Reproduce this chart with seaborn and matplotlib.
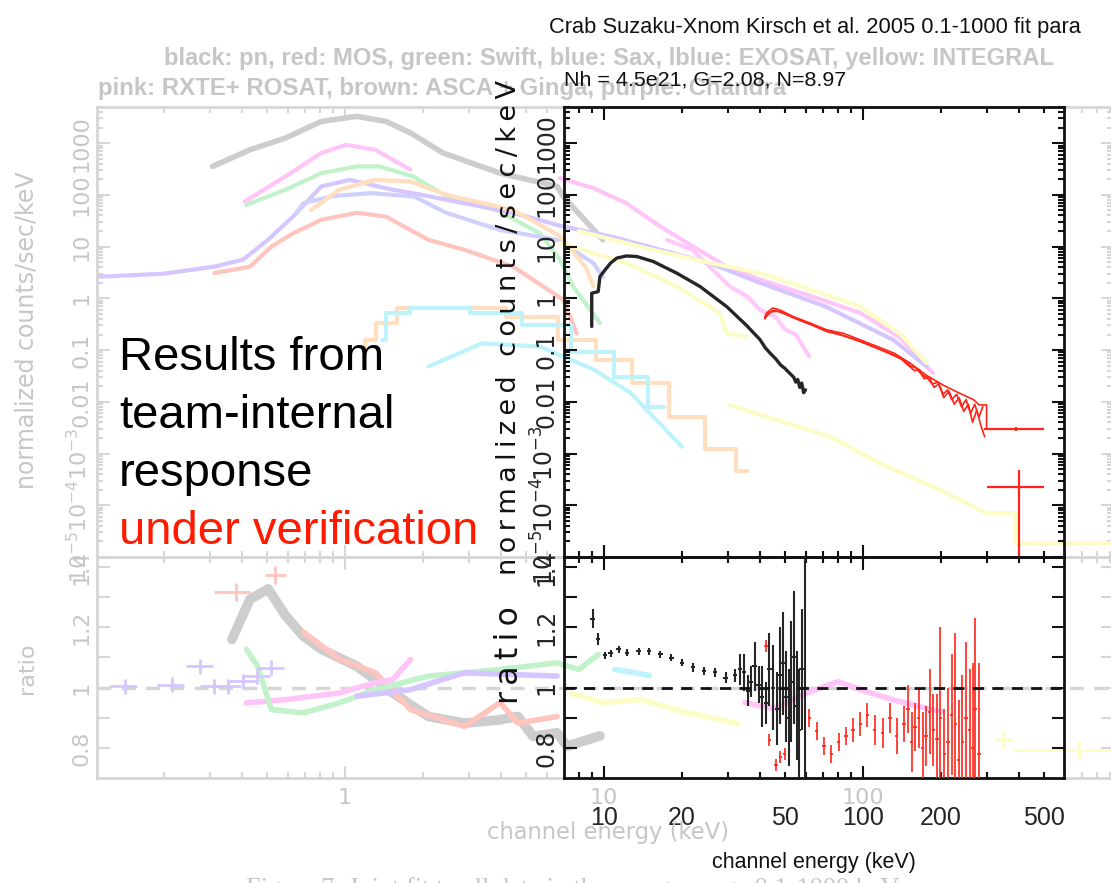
import numpy as np
import matplotlib
matplotlib.use("Agg")
import matplotlib.pyplot as plt
import seaborn as sns

# --- values (energy in keV) ---
# foreground: Suzaku fit, black = PIN, red = GSO
pin_e = [8.97, 8.97, 9.5, 9.65, 10.1, 10.6, 11.2, 12.2, 13.4, 15.5, 19.1, 23.5, 29.8, 35.5,
         40, 42, 44, 46, 48, 50, 52, 54, 55, 56, 57, 58, 59, 60]
pin_y = [0.285, 1.26, 1.35, 2.64, 3.55, 4.79, 6.0, 6.6, 6.43, 5.15, 3.07, 1.69, 0.69, 0.30,
         0.16, 0.11, 0.085, 0.068, 0.052, 0.044, 0.036, 0.03, 0.024, 0.027, 0.019, 0.023, 0.015, 0.017]

gso_a_e = [41.8, 42.4, 44.8, 47.6, 53.8, 62.8, 72.3, 84.2, 97.7, 113.6, 131.9, 152, 176.6, 204,
           237, 267, 281, 300, 300]
gso_a_y = [0.445, 0.52, 0.65, 0.60, 0.445, 0.33, 0.246, 0.21, 0.157, 0.117, 0.087, 0.056, 0.032,
           0.021, 0.0145, 0.011, 0.0087, 0.0087, 0.003]
gso_b_e = [41.8, 43, 45, 48, 54, 63, 72, 84, 98, 114, 132, 145, 152, 160, 168, 176, 185, 195,
           204, 212, 220, 230, 240, 250, 260, 270, 280, 290]
gso_b_y = [0.40, 0.50, 0.58, 0.55, 0.42, 0.31, 0.23, 0.19, 0.145, 0.108, 0.08, 0.062, 0.05, 0.045,
           0.034, 0.03, 0.022, 0.024, 0.014, 0.017, 0.011, 0.014, 0.008, 0.011, 0.006, 0.009,
           0.005, 0.008]
gso_c_e = [41.8, 44, 47, 52, 60, 70, 80, 95, 110, 125, 140, 150, 158, 165, 172, 180, 188, 196,
           205, 215, 225, 235, 245, 255, 265, 275, 285, 295]
gso_c_y = [0.42, 0.55, 0.56, 0.46, 0.34, 0.26, 0.205, 0.155, 0.115, 0.088, 0.068, 0.05, 0.04,
           0.042, 0.028, 0.03, 0.019, 0.022, 0.012, 0.016, 0.009, 0.012, 0.0065, 0.009, 0.004,
           0.007, 0.0035, 0.0021]
# last two wide GSO bins
gso_bin_e = [390, 401]
gso_bin_lo = [292, 300]
gso_bin_hi = [500, 500]
gso_bin_y = [0.003, 2.3e-4]
gso_bin_ylo = [0.0027, 1e-6]
gso_bin_yhi = [0.0033, 4.8e-4]

# ratio panel (data / model)
pin_r_e = [9.05, 9.5, 10.1, 10.6, 11.4, 12.3, 13.6, 14.9, 16.5, 18.2, 20.0, 22.1, 24.3, 26.8,
           29.5, 32.0, 33.5, 34.7, 36.0, 37.0, 38.2, 39.5, 40.8, 42.2, 43.5, 45.0, 46.5, 48.0,
           49.2, 50.4, 51.6, 52.9, 54.2, 55.5, 56.7, 57.9, 59.8]
pin_r = [1.229, 1.16, 1.107, 1.113, 1.127, 1.116, 1.12, 1.12, 1.11, 1.099, 1.083, 1.067, 1.054,
         1.05, 1.033, 1.04, 1.06, 1.05, 0.99, 1.02, 1.07, 1.01, 0.97, 0.95, 1.06, 1.0, 0.93, 1.04,
         1.08, 0.97, 0.9, 1.02, 1.1, 0.94, 0.86, 1.06, 1.0]
pin_r_err = [0.03, 0.02, 0.012, 0.012, 0.012, 0.012, 0.012, 0.012, 0.012, 0.012, 0.012, 0.014,
             0.014, 0.016, 0.018, 0.02, 0.05, 0.06, 0.05, 0.05, 0.08, 0.06, 0.1, 0.07, 0.12, 0.14,
             0.12, 0.16, 0.17, 0.15, 0.16, 0.2, 0.22, 0.18, 0.2, 0.2, 0.7]
gso_r_e = [42.2, 43.5, 46.2, 48.0, 49.8, 52.0, 56.4, 62.1, 66.3, 70.7, 75.5, 80.5, 85.9, 91.6,
           97.7, 104, 111, 119, 127, 135, 144, 149, 154, 159, 164, 170, 175, 181, 187, 193, 199,
           206, 213, 220, 227, 234, 242, 250, 258, 265, 271, 280]
gso_r = [1.138, 0.827, 0.743, 0.771, 0.78, 0.882, 0.90, 0.90, 0.857, 0.807, 0.78, 0.82, 0.84,
         0.86, 0.88, 0.91, 0.86, 0.85, 0.90, 0.84, 0.88, 0.93, 0.82, 0.87, 0.90, 0.80, 0.84, 0.92,
         0.86, 0.83, 0.90, 0.78, 0.82, 0.91, 0.88, 0.76, 0.82, 0.90, 0.86, 0.80, 0.93, 0.78]
gso_r_err = [0.02, 0.02, 0.02, 0.02, 0.02, 0.03, 0.03, 0.03, 0.03, 0.03, 0.03, 0.03, 0.03, 0.04,
             0.04, 0.04, 0.05, 0.05, 0.05, 0.06, 0.06, 0.08, 0.1, 0.08, 0.1, 0.12, 0.1, 0.14,
             0.12, 0.15, 0.3, 0.15, 0.18, 0.2, 0.3, 0.2, 0.22, 0.25, 0.2, 0.28, 0.3, 0.3]

# background (faded) joint fit, main panel
bg_series = {
    "gray": ([0.308, 0.43, 0.59, 0.81, 1.11, 1.44, 1.79, 2.39, 3.97, 6.59, 6.96, 9.9],
             [355, 745, 1260, 2630, 3300, 2630, 1580, 645, 263, 146, 93, 13.5]),
    "pink_lo": ([0.41, 0.59, 0.81, 1.01, 1.31, 1.79], [74, 228, 645, 930, 745, 307]),
    "pink_hi": ([6.76, 9.1, 12.2, 16.5, 22.1, 29.8, 40, 60, 97.7, 140, 186],
                [211, 135, 69, 24.5, 10, 4.1, 2.3, 1.2, 0.52, 0.17, 0.036]),
    "pink_zz": ([17.5, 22, 30.6, 35.8, 40, 46, 50, 55, 62],
                [13.5, 8.6, 1.69, 1.08, 0.6, 0.44, 0.25, 0.2, 0.075]),
    "green": ([0.416, 0.59, 0.81, 1.11, 1.36, 1.83, 2.47, 3.85, 5.66, 6.76, 7.6, 9.65],
              [64, 126, 263, 355, 355, 228, 93, 51, 18, 5.6, 1.7, 0.33]),
    "lav": ([0.11, 0.2, 0.313, 0.404, 0.504, 0.63, 0.81, 1.045, 1.53, 1.83, 3.32, 4.45, 6.96,
             10.6, 16.5, 25.6, 40, 72, 131, 176],
            [2.6, 3.0, 4.1, 5.6, 13.5, 38, 146, 195, 126, 108, 60, 45, 24.5, 15.7, 8.7, 4.8,
             2.0, 0.69, 0.157, 0.048]),
    "blue": ([0.65, 0.69, 0.9, 1.26, 1.85, 2.46, 3.97, 6.59, 9.1, 9.9],
             [45, 69, 95, 108, 93, 45, 21, 13.5, 4.8, 2.6]),
    "red": ([0.313, 0.43, 0.52, 0.63, 0.81, 1.11, 1.44, 2.10, 2.89, 4.46, 6.96, 7.85],
            [3.07, 4.1, 10, 18, 33, 45, 38, 13.5, 8.7, 4.1, 0.94, 0.21]),
    "orange": ([0.74, 0.95, 1.31, 1.79, 2.47, 4.46, 6.76, 7.6, 8.5, 9.1],
               [51, 126, 195, 182, 100, 51, 16, 8, 4, 1.7]),
    "brown": ([1.19, 1.19, 1.44, 1.73, 2.89, 5.45, 7.8, 10.8, 14.9, 20.7, 28.6, 35.8],
              [0.08, 0.157, 0.33, 0.65, 0.65, 0.44, 0.157, 0.065, 0.023, 0.0052, 0.0012, 4.5e-4]),
    "cyan_hi": ([1.39, 1.48, 2.1, 3.97, 5.66, 9.2, 12.7, 17],
                [0.157, 0.52, 0.65, 0.52, 0.3, 0.09, 0.03, 0.008]),
    "cyan_lo": ([2.1, 3.38, 5.66, 9.2, 12.7, 20], [0.048, 0.135, 0.117, 0.041, 0.0147, 1.35e-3]),
    "yel1": ([6.76, 12.2, 19.1, 28, 29.8, 35.5], [11.7, 4.8, 1.7, 0.52, 0.21, 0.18]),
    "yel2": ([8, 15, 25, 40, 60, 97.7, 140, 176], [20, 9, 5, 3.07, 1.6, 0.69, 0.2, 0.056]),
    "yel_lo": ([30.5, 75, 116, 198, 300, 386, 386, 1000],
               [8.7e-3, 2.1e-3, 6.5e-4, 2.0e-4, 7e-5, 7e-5, 1.85e-5, 1.85e-5]),
}
# background ratio panel
bg_ratio = {
    "gray": ([0.366, 0.43, 0.505, 0.59, 0.69, 0.81, 1.11, 1.53, 2.10, 2.89, 3.97, 4.65, 5.33,
              6.59, 7.2, 9.64],
             [1.16, 1.293, 1.327, 1.238, 1.171, 1.127, 1.071, 0.982, 0.904, 0.882, 0.893, 0.904,
              0.838, 0.85, 0.805, 0.84]),
    "red": ([0.69, 0.95, 1.31, 1.79, 2.89, 3.97, 4.65, 6.59],
            [1.184, 1.095, 1.049, 0.927, 0.871, 0.95, 0.882, 0.904]),
    "pink": ([0.416, 0.59, 0.95, 1.31, 1.53, 1.79], [0.949, 0.96, 0.982, 1.016, 1.027, 1.093]),
    "green": ([0.416, 0.46, 0.52, 0.69, 0.95, 1.31, 2.1, 3.97, 6.59, 8, 9.5],
              [1.127, 1.071, 0.927, 0.916, 0.949, 0.993, 1.038, 1.06, 1.082, 1.06, 1.11]),
    "lav": ([1.11, 1.79, 2.89, 6.59], [0.971, 0.993, 1.049, 1.038]),
    "pink_hi": ([35, 45, 60, 80, 100, 130, 160, 200],
                [0.95, 0.93, 0.98, 1.02, 0.99, 0.96, 0.94, 0.92]),
    "yel": ([7.5, 10, 14, 20, 26, 33], [0.98, 0.95, 0.96, 0.92, 0.9, 0.88]),
    "cyan": ([11, 13, 15], [1.06, 1.05, 1.04]),
}
bg_red_x_e = [0.378, 0.537]
bg_red_x_r = [1.316, 1.373]
bg_red_x_lo = [0.313, 0.49]
bg_red_x_hi = [0.43, 0.59]
bg_pur_x_e = [0.141, 0.214, 0.276, 0.313, 0.355, 0.404, 0.457, 0.52]
bg_pur_x_r = [1.004, 1.01, 1.071, 1.004, 1.004, 1.021, 1.038, 1.066]
bg_yel_x_e = [346, 684]
bg_yel_x_r = [0.827, 0.793]
bg_yel_x_lo = [320, 380]
bg_yel_x_hi = [380, 1100]

y_ticks = [1e-5, 1e-4, 1e-3, 1e-2, 0.1, 1, 10, 100, 1000]
y_labels = ["$10^{-5}$", "$10^{-4}$", "$10^{-3}$", "0.01", "0.1", "1", "10", "100", "1000"]
r_ticks = [0.8, 0.9, 1.0, 1.1, 1.2, 1.3, 1.4]
r_labels = ["0.8", "", "1", "", "1.2", "", "1.4"]

# --- style ---
sns.set_theme(style="white")
plt.rcParams["font.family"] = ["DejaVu Sans"]
NARROW = ["DejaVu Sans Condensed", "Liberation Sans Narrow", "Liberation Sans"]
W, H = 1111, 883

bg_cols = {"gray": "#cdcdcd", "pink_lo": "#ffc4f8", "pink_hi": "#ffc4f8", "pink_zz": "#ffcaf9",
           "pink": "#ffc4f8", "green": "#c2f2ca", "lav": "#d6c6ff", "blue": "#d0d0fc",
           "red": "#ffc4bd", "orange": "#ffdfbe", "brown": "#ffdfbe", "cyan_hi": "#bff3fb",
           "cyan_lo": "#bff3fb", "cyan": "#bff3fb", "yel1": "#fcfcc6", "yel2": "#fcfcc6",
           "yel_lo": "#fcfcc6", "yel": "#fcfcc6"}
BG_FRAME = "#d6d6d6"
BG_TEXT = "#c6c6c6"


def px_box(l, t, r, b):
    return [l / W, 1 - b / H, (r - l) / W, (b - t) / H]


def ftext(x, y, s, width=None, **kw):
    # place a text in picture pixels; optionally scale its font so it spans `width` pixels
    t = fig.text(x / W, 1 - y / H, s, **kw)
    if width:
        bb = t.get_window_extent(renderer)
        span = bb.height if kw.get("rotation") == 90 else bb.width
        t.set_fontsize(t.get_fontsize() * width / span)
    return t


def trace(ax, e, y, color, lw, ds="default", z=2):
    sns.lineplot(x=e, y=y, ax=ax, color=color, linewidth=lw, sort=False, estimator=None,
                 drawstyle=ds, zorder=z, legend=False)


def frame(ax, col, lw):
    ax.set_facecolor("none")
    ax.grid(False)
    for s in ax.spines.values():
        s.set_visible(True)
        s.set_color(col)
        s.set_linewidth(lw)
    ax.tick_params(which="both", direction="in", top=True, right=True, bottom=True, left=True,
                   color=col, width=lw * 0.75)
    ax.tick_params(which="major", length=9)
    ax.tick_params(which="minor", length=4.5)


fig = plt.figure(figsize=(W / 100, H / 100), dpi=100)
fig.patch.set_facecolor("white")
renderer = fig.canvas.get_renderer()

bg_main = fig.add_axes(px_box(97, 107, 1113, 557))
bg_rat = fig.add_axes(px_box(97, 557, 1113, 778))
fg_main = fig.add_axes(px_box(564, 107, 1064, 557))
fg_rat = fig.add_axes(px_box(564, 557, 1064, 778))

# --- background: faded joint fit ---
for key, (e, y) in bg_series.items():
    lw = 4 if key == "gray" else 3
    ds = "steps-mid" if key in ("brown", "cyan_hi") else "default"
    trace(bg_main, e, y, bg_cols[key], lw, ds)
for key, (e, r) in bg_ratio.items():
    lw = 7 if key == "gray" else 4
    trace(bg_rat, e, r, bg_cols[key], lw)
bg_rat.errorbar(bg_red_x_e, bg_red_x_r, yerr=0.03,
                xerr=[np.subtract(bg_red_x_e, bg_red_x_lo), np.subtract(bg_red_x_hi, bg_red_x_e)],
                fmt="none", ecolor=bg_cols["red"], elinewidth=2)
bg_rat.errorbar(bg_pur_x_e, bg_pur_x_r, yerr=0.025, xerr=np.array(bg_pur_x_e) * 0.12,
                fmt="none", ecolor=bg_cols["lav"], elinewidth=2)
bg_rat.errorbar(bg_yel_x_e, bg_yel_x_r, yerr=0.03,
                xerr=[np.subtract(bg_yel_x_e, bg_yel_x_lo), np.subtract(bg_yel_x_hi, bg_yel_x_e)],
                fmt="none", ecolor=bg_cols["yel"], elinewidth=2)
bg_rat.axhline(1, color=BG_FRAME, lw=2.5, ls=(0, (4, 3)), zorder=1)

for ax in (bg_main, bg_rat):
    ax.set_xscale("log")
    ax.set_xlim(0.1103, 923)
    frame(ax, BG_FRAME, 2)
    ax.set_xticks([1, 10, 100])
    ax.set_xticks([v * m for m in (0.1, 1, 10, 100) for v in range(2, 10)], minor=True)
    ax.tick_params(which="both", labelsize=16, labelcolor=BG_TEXT)
bg_main.set_yscale("log")
bg_main.set_ylim(1e-5, 5000)
bg_main.set_yticks(y_ticks, labels=y_labels, rotation=90, va="center")
bg_main.tick_params(labelbottom=False, pad=4)
bg_rat.set_ylim(0.7, 1.433)
bg_rat.set_yticks(r_ticks, labels=r_labels, rotation=90, va="center")
bg_rat.set_xticklabels(["1", "10", "100"])
bg_rat.tick_params(axis="x", which="both", pad=7)
bg_rat.tick_params(axis="y", pad=4)

# --- foreground: Suzaku spectrum ---
trace(fg_main, [8.97, 8.97], [0.3, 1.2], "#2f8f4f", 1.5, z=4)
trace(fg_main, pin_e, pin_y, "#262626", 2.4, z=5)
for e, y in ((gso_c_e, gso_c_y), (gso_b_e, gso_b_y), (gso_a_e, gso_a_y)):
    trace(fg_main, e, y, "#ff2418", 1.2, z=5)
fg_main.errorbar(gso_bin_e, gso_bin_y,
                 yerr=[np.subtract(gso_bin_y, gso_bin_ylo), np.subtract(gso_bin_yhi, gso_bin_y)],
                 xerr=[np.subtract(gso_bin_e, gso_bin_lo), np.subtract(gso_bin_hi, gso_bin_e)],
                 fmt="none", ecolor="#ff2418", elinewidth=1.6, zorder=5)

fg_rat.axhline(1, color="#111111", lw=2, ls=(0, (4, 3)), zorder=6)
fg_rat.errorbar(pin_r_e, pin_r, yerr=pin_r_err, xerr=np.array(pin_r_e) * 0.02,
                fmt="none", ecolor="#262626", elinewidth=1.5, zorder=5)
fg_rat.errorbar(gso_r_e, gso_r, yerr=gso_r_err, xerr=np.array(gso_r_e) * 0.015,
                fmt="none", ecolor="#ff2418", elinewidth=1.2, zorder=4)

for ax in (fg_main, fg_rat):
    ax.set_xscale("log")
    ax.set_xlim(7.01, 597)
    frame(ax, "#111111", 2)
    ax.set_xticks([10, 100])
    ax.set_xticks([8, 9, 20, 30, 40, 50, 60, 70, 80, 90, 200, 300, 400, 500], minor=True)
fg_main.set_yscale("log")
fg_main.set_ylim(1e-5, 5000)
fg_main.set_yticks(y_ticks, labels=y_labels, rotation=90, va="center", fontsize=17)
fg_main.tick_params(labelbottom=False, pad=4)
fg_rat.set_ylim(0.7, 1.433)
fg_rat.set_yticks(r_ticks, labels=r_labels, rotation=90, va="center", fontsize=17)
fg_rat.set_xticks([10, 100], labels=["10", "100"], fontsize=18, family=NARROW)
fg_rat.set_xticks([8, 9, 20, 30, 40, 50, 60, 70, 80, 90, 200, 300, 400, 500],
                  labels=["", "", "20", "", "", "50", "", "", "", "", "200", "", "", "500"],
                  minor=True, fontsize=18, family=NARROW)
fg_rat.tick_params(axis="x", which="both", pad=20)
fg_rat.tick_params(axis="y", pad=4)

# --- texts ---
thin = "\u2009"
ftext(27, 330, "normalized counts/sec/keV", width=320, rotation=90, ha="center", va="center",
      fontsize=16, color=BG_TEXT)
ftext(27, 668, "ratio", rotation=90, ha="center", va="center", fontsize=16, color=BG_TEXT)
ftext(608, 832, "channel energy (keV)", width=242, ha="center", va="center", fontsize=17,
      color=BG_TEXT)
ftext(164, 65, "black: pn, red: MOS, green: Swift, blue: Sax, lblue: EXOSAT, yellow: INTEGRAL",
      width=889, fontsize=14.5, fontweight="bold", color=BG_TEXT, family="Liberation Sans")
ftext(98, 95, "pink: RXTE+ ROSAT, brown: ASCA + Ginga, purple: Chandra", width=690,
      fontsize=14.5, fontweight="bold", color=BG_TEXT, family="Liberation Sans")
ftext(246, 877, "Figure 7: Joint fit to all data in the energy range 0.1-1000 keV", width=651,
      va="top", fontsize=17, color=BG_TEXT, family="Liberation Serif")

ftext(549, 33, "Crab Suzaku-Xnom Kirsch et al. 2005 0.1-1000 fit para", width=530,
      fontsize=17.5, family=NARROW, color="#111111")
ftext(564, 85, "Nh = 4.5e21, G=2.08, N=8.97", width=282, fontsize=17.5, family=NARROW,
      color="#111111")
ftext(509, 327, thin.join("normalized counts/sec/keV"), width=495, rotation=90, ha="center",
      va="center", fontsize=18, color="#111111")
ftext(510, 655, thin.join("ratio"), width=98, rotation=90, ha="center", va="center",
      fontsize=18, color="#111111")
ftext(814, 868, "channel energy (keV)", width=205, ha="center", fontsize=18.5, family=NARROW,
      color="#111111")

for i, (s, c) in enumerate([("Results from", "black"), ("team-internal", "black"),
                            ("response", "black"), ("under verification", "#ff1a00")]):
    ftext(119, 370 + 58 * i, s, fontsize=34, color=c, family="Liberation Sans")

fig.savefig("out.png", dpi=100)
